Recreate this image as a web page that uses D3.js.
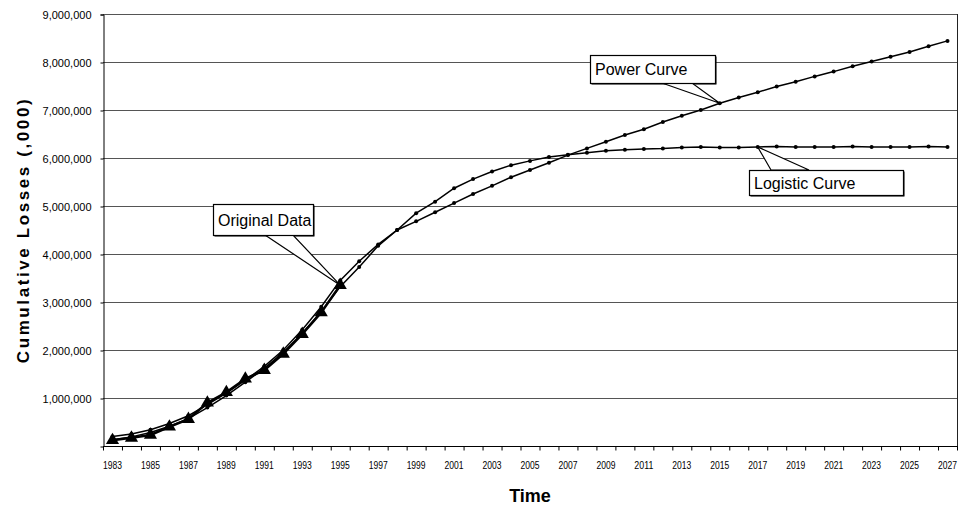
<!DOCTYPE html>
<html lang="en">
<head>
    <meta charset="UTF-8">
    <title>Cumulative Losses</title>
    <script src="https://cdn.jsdelivr.net/npm/d3@7"></script>
</head>
<style>
    body { margin: 0; background: #fff; }
    svg { display: block; font-family: Arial, "Liberation Sans", sans-serif; }
</style>
<body>
</body>
</html>
<script>

    // categories: years on the x axis
    var years = d3.range(1983, 2028);
    // only odd years get a label
    var yearLabels = years.filter(function (d) { return d % 2 === 1; });
    var yTicks = [1000000, 2000000, 3000000, 4000000, 5000000, 6000000, 7000000, 8000000, 9000000];

    // original data (1983-1995), triangles
    var original = [120000, 170000, 230000, 400000, 560000, 900000, 1120000, 1400000, 1580000,
        1920000, 2330000, 2780000, 3350000];

    // logistic curve fit, 1983-2027
    var logistic = [200000, 250000, 340000, 470000, 630000, 860000, 1100000, 1370000, 1660000,
        2000000, 2420000, 2900000, 3450000, 3850000, 4200000, 4500000, 4850000, 5090000,
        5370000, 5560000, 5720000, 5850000, 5940000, 6020000, 6070000, 6110000, 6150000,
        6170000, 6190000, 6200000, 6220000, 6230000, 6220000, 6220000, 6230000, 6240000,
        6230000, 6230000, 6230000, 6240000, 6230000, 6230000, 6230000, 6240000, 6230000];

    // power curve fit, 1983-2027
    var power = [130000, 190000, 280000, 410000, 570000, 800000, 1050000, 1330000, 1620000,
        1950000, 2350000, 2800000, 3320000, 3730000, 4170000, 4500000, 4680000, 4870000,
        5060000, 5250000, 5420000, 5600000, 5750000, 5900000, 6060000, 6200000, 6340000,
        6480000, 6600000, 6750000, 6880000, 7000000, 7140000, 7260000, 7370000, 7490000,
        7590000, 7700000, 7800000, 7910000, 8010000, 8110000, 8210000, 8330000, 8440000];

    var w = 961;
    var h = 507;
    // plot area edges (window.top is reserved, so use other names)
    var pLeft = 103, pRight = 957, pTop = 14, pBottom = 446;

    var svg = d3.select("body")
            .append("svg")
            .attr("width", w)
            .attr("height", h);

    var x = d3.scaleBand()
            .domain(years)
            .range([pLeft, pRight]);
    var cx = function (d) { return x(d) + x.bandwidth() / 2; };

    var y = d3.scaleLinear()
            .domain([0, 9000000])
            .range([pBottom, pTop]);

    // gridlines
    svg.append("g")
            .selectAll("line")
            .data(yTicks)
            .enter()
            .append("line")
            .attr("x1", pLeft)
            .attr("x2", pRight)
            .attr("y1", function (d) { return y(d) + 0.5; })
            .attr("y2", function (d) { return y(d) + 0.5; })
            .attr("stroke", "#555")
            .attr("stroke-width", 1);

    // right edge of plot area
    svg.append("line")
            .attr("x1", pRight + 0.5).attr("x2", pRight + 0.5)
            .attr("y1", pTop).attr("y2", pBottom)
            .attr("stroke", "#222");

    // y axis
    var yAxis = d3.axisLeft(y)
            .tickValues(yTicks)
            .tickSize(3)
            .tickPadding(9)
            .tickFormat(d3.format(","));
    var gy = svg.append("g")
            .attr("transform", "translate(" + (pLeft + 0.5) + ",0.5)")
            .call(yAxis);
    gy.select(".domain").attr("stroke", "#000");
    gy.selectAll("text")
            .attr("font-size", "11px")
            .attr("font-family", "Arial, 'Liberation Sans', sans-serif")
            .attr("fill", "#000");

    // x axis: ticks between categories
    var gx = svg.append("g")
            .attr("transform", "translate(0," + (pBottom + 0.5) + ")");
    gx.append("line")
            .attr("x1", pLeft).attr("x2", pRight + 1)
            .attr("stroke", "#000");
    gx.selectAll("line.tick")
            .data(years.concat([2028]))
            .enter()
            .append("line")
            .attr("class", "tick")
            .attr("x1", function (d) { return d === 2028 ? pRight + 0.5 : x(d) + 0.5; })
            .attr("x2", function (d) { return d === 2028 ? pRight + 0.5 : x(d) + 0.5; })
            .attr("y1", 0)
            .attr("y2", 4)
            .attr("stroke", "#000");
    gx.selectAll("text")
            .data(yearLabels)
            .enter()
            .append("text")
            .text(function (d) { return d; })
            .attr("x", cx)
            .attr("y", 22)
            .attr("text-anchor", "middle")
            .attr("font-size", "11px")
            .attr("textLength", 19)
            .attr("lengthAdjust", "spacingAndGlyphs")
            .attr("fill", "#000");

    // axis titles
    svg.append("text")
            .text("Cumulative Losses (,000)")
            .attr("transform", "translate(29," + ((pTop + pBottom) / 2) + ") rotate(-90)")
            .attr("text-anchor", "middle")
            .attr("font-size", "17px")
            .attr("font-weight", "bold")
            .attr("letter-spacing", "2.6px");
    svg.append("text")
            .text("Time")
            .attr("x", (pLeft + pRight) / 2)
            .attr("y", 502)
            .attr("text-anchor", "middle")
            .attr("font-size", "18px")
            .attr("font-weight", "bold");

    // lines
    var line = d3.line()
            .x(function (d, i) { return cx(years[i]); })
            .y(function (d) { return y(d); });

    function drawCurve(values) {
        svg.append("path")
                .datum(values)
                .attr("d", line)
                .attr("fill", "none")
                .attr("stroke", "#000")
                .attr("stroke-width", 1.5);
        svg.append("g")
                .selectAll("circle")
                .data(values)
                .enter()
                .append("circle")
                .attr("cx", function (d, i) { return cx(years[i]); })
                .attr("cy", function (d) { return y(d); })
                .attr("r", 2)
                .attr("fill", "#000");
    }
    drawCurve(logistic);
    drawCurve(power);

    svg.append("path")
            .datum(original)
            .attr("d", line)
            .attr("fill", "none")
            .attr("stroke", "#000")
            .attr("stroke-width", 2.5);
    svg.append("g")
            .selectAll("path")
            .data(original)
            .enter()
            .append("path")
            .attr("d", d3.symbol().type(d3.symbolTriangle).size(75))
            .attr("transform", function (d, i) {
                return "translate(" + cx(years[i]) + "," + y(d) + ")";
            })
            .attr("fill", "#000");

    // callouts: box plus wedge pointing to a data point
    function callout(label, bx, by, bw, bh, tipX, tipY, w1, w2, fromTop) {
        var g = svg.append("g");
        var edge = fromTop ? by : by + bh;
        g.append("rect")
                .attr("x", bx + 1.5).attr("y", by + 1.5)
                .attr("width", bw).attr("height", bh)
                .attr("fill", "#000");
        g.append("polygon")
                .attr("points", [[bx + w1, edge], [tipX, tipY], [bx + w2, edge]].join(" "))
                .attr("fill", "#fff")
                .attr("stroke", "#000")
                .attr("stroke-width", 1.2);
        g.append("rect")
                .attr("x", bx + 0.5).attr("y", by + 0.5)
                .attr("width", bw).attr("height", bh)
                .attr("fill", "#fff")
                .attr("stroke", "#000")
                .attr("stroke-width", 1.2);
        g.append("text")
                .text(label)
                .attr("x", bx + 5)
                .attr("y", by + bh / 2 + 6)
                .attr("font-size", "16px")
                .attr("fill", "#000");
    }

    callout("Original Data", 213, 204, 100, 31, cx(1995), y(original[12]), 52, 80, false);
    callout("Power Curve", 590, 55, 125, 28, cx(2015), y(power[32]), 72, 102, false);
    callout("Logistic Curve", 749, 170, 154, 25, cx(2017), y(logistic[34]), 22, 60, true);
</script>
